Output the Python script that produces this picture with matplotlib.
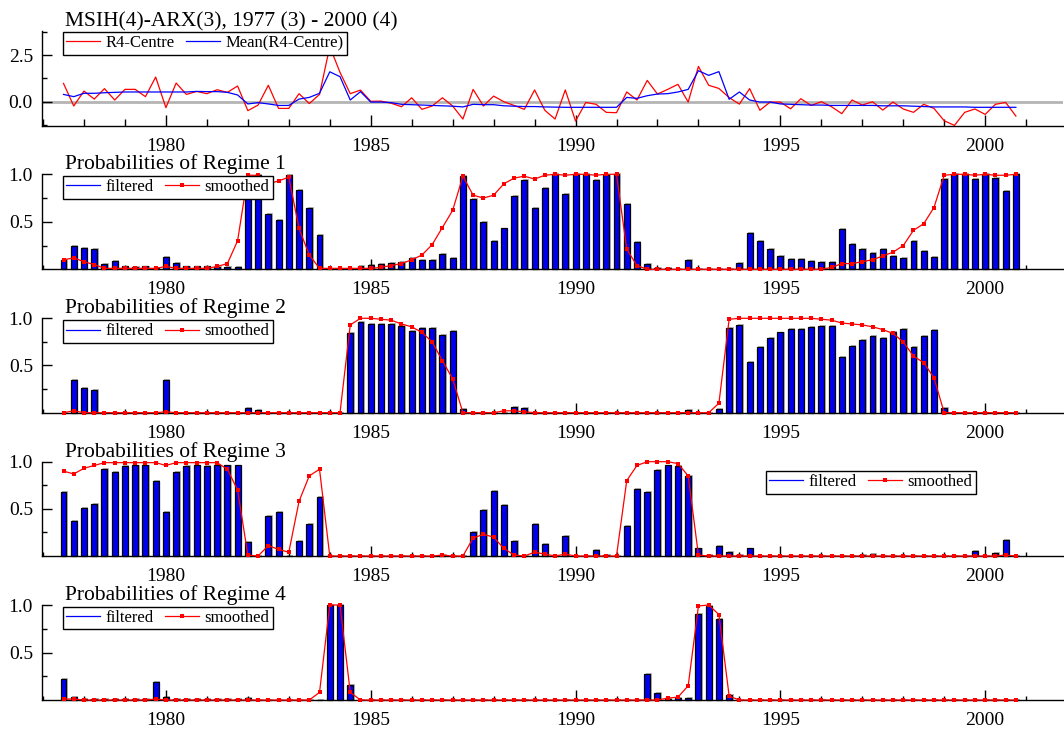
import numpy as np
import matplotlib
matplotlib.use("Agg")
import matplotlib.pyplot as plt
from matplotlib.ticker import MultipleLocator
from matplotlib.lines import Line2D

plt.rcParams['font.family'] = ['Liberation Serif', 'DejaVu Serif']

# ---------------- data ----------------
start_year, start_quarter, n_obs = 1977, 3, 94
title_top = "MSIH(4)-ARX(3), 1977 (3) - 2000 (4)"
series_names = ["R4-Centre", "Mean(R4-Centre)"]
regime_titles = ["Probabilities of Regime 1", "Probabilities of Regime 2",
                 "Probabilities of Regime 3", "Probabilities of Regime 4"]
year_ticks = [1980, 1985, 1990, 1995, 2000]

r4_centre = [0.98, -0.23, 0.57, 0.14, 0.70, 0.09, 0.66, 0.66, 0.27, 1.32,
             -0.32, 1.00, 0.39, 0.55, 0.43, 0.64, 0.50, 0.84, -0.48, -0.18,
             0.88, -0.36, -0.36, 0.43, -0.10, 0.39, 2.95, 1.57, 0.43, 0.62,
             0.02, 0.03, -0.08, -0.27, 0.21, -0.41, -0.23, 0.21, -0.23, -0.93,
             0.66, -0.23, 0.30, 0.00, -0.20, -0.41, 0.63, -0.46, -0.93, 0.63,
             -1.04, -0.04, -0.14, -0.57, -0.59, 0.52, 0.09, 1.14, 0.41, 0.66,
             0.93, -0.02, 1.89, 0.88, 0.71, 0.22, -0.13, 0.70, -0.46, -0.02,
             -0.02, -0.38, 0.16, -0.20, 0.00, -0.27, -0.64, 0.09, -0.18, 0.00,
             -0.45, -0.02, -0.39, -0.57, -0.14, -0.36, -1.02, -1.27, -0.57, -0.39,
             -0.68, -0.14, -0.04, -0.77]

mean_r4 = [0.39, 0.27, 0.45, 0.45, 0.48, 0.50, 0.52, 0.52, 0.52, 0.52,
           0.52, 0.52, 0.52, 0.55, 0.54, 0.54, 0.50, 0.36, -0.12, -0.05,
           -0.12, -0.20, -0.20, 0.14, 0.23, 0.45, 1.60, 1.34, 0.09, 0.54,
           -0.02, -0.02, -0.05, -0.14, -0.16, -0.18, -0.20, -0.22, -0.24, -0.28,
           -0.14, -0.16, -0.16, -0.22, -0.24, -0.26, -0.26, -0.28, -0.29, -0.30,
           -0.30, -0.30, -0.30, -0.30, -0.30, 0.23, 0.18, 0.32, 0.41, 0.43,
           0.52, 0.66, 1.66, 1.41, 1.61, 0.13, 0.52, 0.09, -0.02, -0.02,
           -0.12, -0.14, -0.16, -0.18, -0.18, -0.20, -0.20, -0.20, -0.20, -0.20,
           -0.22, -0.22, -0.22, -0.24, -0.26, -0.28, -0.28, -0.28, -0.28, -0.30,
           -0.30, -0.30, -0.30, -0.30]

filtered_1 = [0.10, 0.25, 0.22, 0.21, 0.06, 0.09, 0.03, 0.02, 0.03, 0.01,
              0.13, 0.07, 0.03, 0.03, 0.03, 0.02, 0.02, 0.02, 0.77, 0.99,
              0.58, 0.52, 0.99, 0.83, 0.65, 0.36, 0.00, 0.00, 0.00, 0.04,
              0.05, 0.06, 0.07, 0.08, 0.12, 0.10, 0.10, 0.16, 0.12, 0.98,
              0.74, 0.50, 0.30, 0.43, 0.77, 0.94, 0.65, 0.86, 1.00, 0.79,
              1.00, 1.00, 0.94, 0.99, 1.00, 0.69, 0.29, 0.06, 0.01, 0.01,
              0.00, 0.10, 0.00, 0.00, 0.00, 0.00, 0.07, 0.38, 0.30, 0.21,
              0.14, 0.11, 0.11, 0.09, 0.08, 0.08, 0.42, 0.27, 0.21, 0.17,
              0.21, 0.14, 0.12, 0.30, 0.19, 0.13, 0.95, 1.00, 1.00, 0.95,
              1.00, 0.96, 0.82, 1.00]
smoothed_1 = [0.10, 0.12, 0.08, 0.05, 0.01, 0.01, 0.01, 0.01, 0.01, 0.01,
              0.03, 0.01, 0.01, 0.01, 0.01, 0.03, 0.06, 0.30, 0.99, 0.99,
              0.90, 0.93, 0.97, 0.43, 0.15, 0.01, 0.01, 0.01, 0.01, 0.01,
              0.01, 0.02, 0.04, 0.06, 0.10, 0.15, 0.26, 0.44, 0.62, 0.98,
              0.78, 0.75, 0.78, 0.90, 0.96, 0.98, 0.95, 0.99, 1.00, 0.99,
              1.00, 1.00, 0.99, 1.00, 1.00, 0.21, 0.04, 0.00, 0.00, 0.00,
              0.00, 0.00, 0.00, 0.00, 0.00, 0.00, 0.00, 0.00, 0.00, 0.00,
              0.00, 0.00, 0.00, 0.00, 0.00, 0.02, 0.06, 0.06, 0.08, 0.10,
              0.14, 0.18, 0.25, 0.41, 0.48, 0.65, 0.99, 1.00, 1.00, 0.99,
              1.00, 0.99, 0.99, 1.00]

filtered_2 = [0.00, 0.35, 0.26, 0.24, 0.00, 0.00, 0.00, 0.00, 0.00, 0.00,
              0.35, 0.00, 0.00, 0.00, 0.00, 0.00, 0.00, 0.00, 0.05, 0.03,
              0.00, 0.00, 0.00, 0.00, 0.00, 0.00, 0.00, 0.00, 0.84, 0.96,
              0.94, 0.94, 0.94, 0.92, 0.87, 0.90, 0.90, 0.82, 0.87, 0.04,
              0.00, 0.00, 0.00, 0.00, 0.06, 0.05, 0.00, 0.00, 0.00, 0.00,
              0.00, 0.00, 0.00, 0.00, 0.00, 0.00, 0.00, 0.00, 0.00, 0.00,
              0.00, 0.03, 0.00, 0.00, 0.04, 0.90, 0.93, 0.54, 0.70, 0.79,
              0.85, 0.89, 0.89, 0.91, 0.92, 0.92, 0.59, 0.71, 0.77, 0.81,
              0.79, 0.86, 0.89, 0.70, 0.81, 0.88, 0.05, 0.00, 0.00, 0.00,
              0.00, 0.00, 0.00, 0.00]
smoothed_2 = [0.00, 0.02, 0.00, 0.00, 0.00, 0.00, 0.00, 0.00, 0.00, 0.00,
              0.01, 0.00, 0.00, 0.00, 0.00, 0.00, 0.00, 0.00, 0.00, 0.00,
              0.00, 0.00, 0.00, 0.00, 0.00, 0.00, 0.00, 0.00, 0.93, 1.00,
              1.00, 0.99, 0.98, 0.94, 0.91, 0.85, 0.75, 0.55, 0.36, 0.00,
              0.00, 0.00, 0.00, 0.02, 0.02, 0.01, 0.00, 0.00, 0.00, 0.00,
              0.00, 0.00, 0.00, 0.00, 0.00, 0.00, 0.00, 0.00, 0.00, 0.00,
              0.00, 0.00, 0.00, 0.00, 0.10, 0.99, 1.00, 1.00, 1.00, 1.00,
              1.00, 1.00, 1.00, 1.00, 0.99, 0.98, 0.95, 0.94, 0.93, 0.91,
              0.88, 0.84, 0.75, 0.60, 0.53, 0.37, 0.00, 0.00, 0.00, 0.00,
              0.00, 0.00, 0.00, 0.00]

filtered_3 = [0.68, 0.37, 0.51, 0.55, 0.92, 0.89, 0.95, 0.96, 0.96, 0.80,
              0.47, 0.89, 0.95, 0.96, 0.95, 0.96, 0.96, 0.96, 0.15, 0.00,
              0.42, 0.47, 0.00, 0.16, 0.34, 0.63, 0.00, 0.00, 0.00, 0.00,
              0.00, 0.00, 0.00, 0.00, 0.00, 0.00, 0.00, 0.01, 0.00, 0.00,
              0.25, 0.49, 0.69, 0.54, 0.16, 0.00, 0.34, 0.13, 0.00, 0.21,
              0.00, 0.00, 0.06, 0.01, 0.00, 0.32, 0.71, 0.68, 0.91, 0.96,
              0.95, 0.85, 0.08, 0.01, 0.11, 0.04, 0.01, 0.08, 0.00, 0.00,
              0.00, 0.00, 0.00, 0.00, 0.00, 0.00, 0.00, 0.00, 0.01, 0.02,
              0.00, 0.00, 0.00, 0.00, 0.00, 0.00, 0.00, 0.00, 0.00, 0.05,
              0.00, 0.03, 0.17, 0.00]
smoothed_3 = [0.90, 0.87, 0.93, 0.96, 0.99, 0.99, 0.99, 0.99, 0.99, 0.99,
              0.96, 0.99, 0.99, 0.99, 0.99, 0.99, 0.92, 0.70, 0.01, 0.00,
              0.11, 0.07, 0.04, 0.58, 0.85, 0.92, 0.00, 0.00, 0.00, 0.00,
              0.00, 0.00, 0.00, 0.00, 0.00, 0.00, 0.00, 0.01, 0.00, 0.00,
              0.19, 0.23, 0.20, 0.08, 0.01, 0.00, 0.04, 0.02, 0.00, 0.02,
              0.00, 0.00, 0.00, 0.00, 0.00, 0.80, 0.96, 1.00, 1.00, 1.00,
              0.98, 0.85, 0.01, 0.00, 0.00, 0.00, 0.00, 0.00, 0.00, 0.00,
              0.00, 0.00, 0.00, 0.00, 0.00, 0.00, 0.00, 0.00, 0.00, 0.00,
              0.00, 0.00, 0.00, 0.00, 0.00, 0.00, 0.00, 0.00, 0.00, 0.00,
              0.00, 0.00, 0.01, 0.00]

filtered_4 = [0.22, 0.03, 0.01, 0.01, 0.01, 0.01, 0.01, 0.01, 0.01, 0.19,
              0.03, 0.01, 0.01, 0.01, 0.01, 0.01, 0.01, 0.01, 0.02, 0.00,
              0.00, 0.00, 0.00, 0.00, 0.00, 0.00, 1.00, 1.00, 0.16, 0.00,
              0.00, 0.00, 0.00, 0.00, 0.00, 0.00, 0.00, 0.00, 0.00, 0.00,
              0.00, 0.00, 0.00, 0.00, 0.00, 0.00, 0.00, 0.00, 0.00, 0.00,
              0.00, 0.00, 0.00, 0.00, 0.00, 0.00, 0.00, 0.27, 0.07, 0.01,
              0.02, 0.02, 0.91, 0.99, 0.85, 0.05, 0.00, 0.00, 0.00, 0.00,
              0.00, 0.00, 0.00, 0.00, 0.00, 0.00, 0.00, 0.00, 0.00, 0.00,
              0.00, 0.00, 0.00, 0.00, 0.00, 0.00, 0.00, 0.00, 0.00, 0.00,
              0.00, 0.00, 0.00, 0.00]
smoothed_4 = [0.01, 0.01, 0.00, 0.00, 0.00, 0.00, 0.00, 0.00, 0.00, 0.01,
              0.00, 0.00, 0.00, 0.00, 0.00, 0.00, 0.00, 0.00, 0.00, 0.00,
              0.00, 0.00, 0.00, 0.00, 0.00, 0.08, 1.00, 1.00, 0.08, 0.00,
              0.00, 0.00, 0.00, 0.00, 0.00, 0.00, 0.00, 0.00, 0.00, 0.00,
              0.00, 0.00, 0.00, 0.00, 0.00, 0.00, 0.00, 0.00, 0.00, 0.00,
              0.00, 0.00, 0.00, 0.00, 0.00, 0.00, 0.00, 0.00, 0.00, 0.02,
              0.03, 0.15, 0.99, 1.00, 0.90, 0.04, 0.00, 0.00, 0.00, 0.00,
              0.00, 0.00, 0.00, 0.00, 0.00, 0.00, 0.00, 0.00, 0.00, 0.00,
              0.00, 0.00, 0.00, 0.00, 0.00, 0.00, 0.00, 0.00, 0.00, 0.00,
              0.00, 0.00, 0.00, 0.00]

filtered = [filtered_1, filtered_2, filtered_3, filtered_4]
smoothed = [smoothed_1, smoothed_2, smoothed_3, smoothed_4]

# quarterly time axis: 1977(3) ... 2000(4)
t = start_year + (start_quarter - 1) / 4.0 + 0.25 * np.arange(n_obs)

# ---------------- layout ----------------
W, H = 1064, 731
fig = plt.figure(figsize=(W / 100, H / 100), dpi=100)
LEFT_PX, RIGHT_PX = 42, 1063
XLIM = (1976.975, 2001.90)
RED = '#ff0000'
BLUE = '#0000ff'
TICK_FS = 14
TITLE_FS = 15.5
LEG_FS = 12


def add_ax(top_px, bot_px):
    return fig.add_axes([LEFT_PX / W, 1 - bot_px / H,
                         (RIGHT_PX - LEFT_PX) / W, (bot_px - top_px) / H])


def style_axes(ax, xmajor_len, xminor_len):
    ax.set_xlim(*XLIM)
    ax.set_xticks(year_ticks)
    ax.set_xticklabels([str(y) for y in year_ticks])
    ax.xaxis.set_minor_locator(MultipleLocator(1))
    ax.tick_params(axis='x', which='major', direction='in', length=xmajor_len,
                   width=1, pad=8.5, labelsize=TICK_FS)
    ax.tick_params(axis='x', which='minor', direction='in', length=xminor_len,
                   width=1)
    ax.tick_params(axis='y', which='major', direction='in', length=7,
                   width=1, pad=6.5, labelsize=TICK_FS)
    ax.tick_params(axis='y', which='minor', direction='in', length=3.6,
                   width=1)
    for s in ('top', 'right'):
        ax.spines[s].set_visible(False)
    for s in ('left', 'bottom'):
        ax.spines[s].set_linewidth(1.0)
    ax.patch.set_alpha(0)


def legend_at(ax, handles, labels, x_px, y_px):
    leg = ax.legend(handles, labels, loc='upper left', ncol=len(handles),
                    bbox_to_anchor=(x_px / W, 1 - y_px / H),
                    bbox_transform=fig.transFigure, borderaxespad=0,
                    fontsize=LEG_FS, frameon=True, fancybox=False,
                    framealpha=1, edgecolor='black', handlelength=2.0,
                    handletextpad=0.35, columnspacing=0.7, borderpad=0.2,
                    labelspacing=0.2)
    leg.get_frame().set_linewidth(1.0)
    leg.set_zorder(10)
    return leg


# ---------------- top panel ----------------
ax0 = add_ax(31, 125.7)
style_axes(ax0, 8, 5)
ax0.set_ylim(-1.285, 3.785)
ax0.yaxis.set_major_locator(MultipleLocator(2.5))
ax0.yaxis.set_minor_locator(MultipleLocator(1.25))
ax0.yaxis.set_major_formatter(plt.FormatStrFormatter('%.1f'))
ax0.axhline(0, color='#b4b4b4', lw=2.0, zorder=1)
ax0.plot(t, r4_centre, color=RED, lw=0.9, zorder=3)
ax0.plot(t, mean_r4, color=BLUE, lw=0.9, zorder=3)
fig.text(65 / W, 1 - 26 / H, title_top, fontsize=TITLE_FS, va='baseline',
         ha='left')
legend_at(ax0, [Line2D([], [], color=RED, lw=0.9),
                Line2D([], [], color=BLUE, lw=0.9)],
          series_names, 63, 32)

# ---------------- regime panels ----------------
panel_px = [(174.3, 269.3), (318.3, 412.7), (461.7, 556.0), (605.0, 700.0)]
legend_px = [(63, 176), (63, 320), (766, 471), (63, 606.7)]
bar_w = 0.145

for k in range(4):
    top, bot = panel_px[k]
    ax = add_ax(top, bot)
    style_axes(ax, 7, 3)
    ax.set_ylim(0, 1.0)
    ax.set_yticks([0.5, 1.0])
    ax.yaxis.set_major_formatter(plt.FormatStrFormatter('%.1f'))
    ax.yaxis.set_minor_locator(plt.FixedLocator([0.25, 0.75]))
    # bar shadows
    ax.bar(t + 0.035, np.array(filtered[k]) + 0.01, width=bar_w,
           color='#b9b9b9', edgecolor='none', zorder=1, clip_on=False)
    ax.bar(t, filtered[k], width=bar_w, color='#0000ee', edgecolor='black',
           linewidth=0.9, zorder=2, clip_on=False)
    ax.plot(t, smoothed[k], color=RED, lw=0.9, marker='s', markersize=3.3,
            markeredgewidth=0, zorder=4, clip_on=False)
    fig.text(65 / W, 1 - (top - 5) / H, regime_titles[k], fontsize=TITLE_FS,
             va='baseline', ha='left')
    lx, ly = legend_px[k]
    legend_at(ax, [Line2D([], [], color=BLUE, lw=0.9),
                   Line2D([], [], color=RED, lw=0.9, marker='s',
                          markersize=3.3, markeredgewidth=0)],
              ['filtered', 'smoothed'], lx, ly)

fig.savefig('out.png', dpi=100)
